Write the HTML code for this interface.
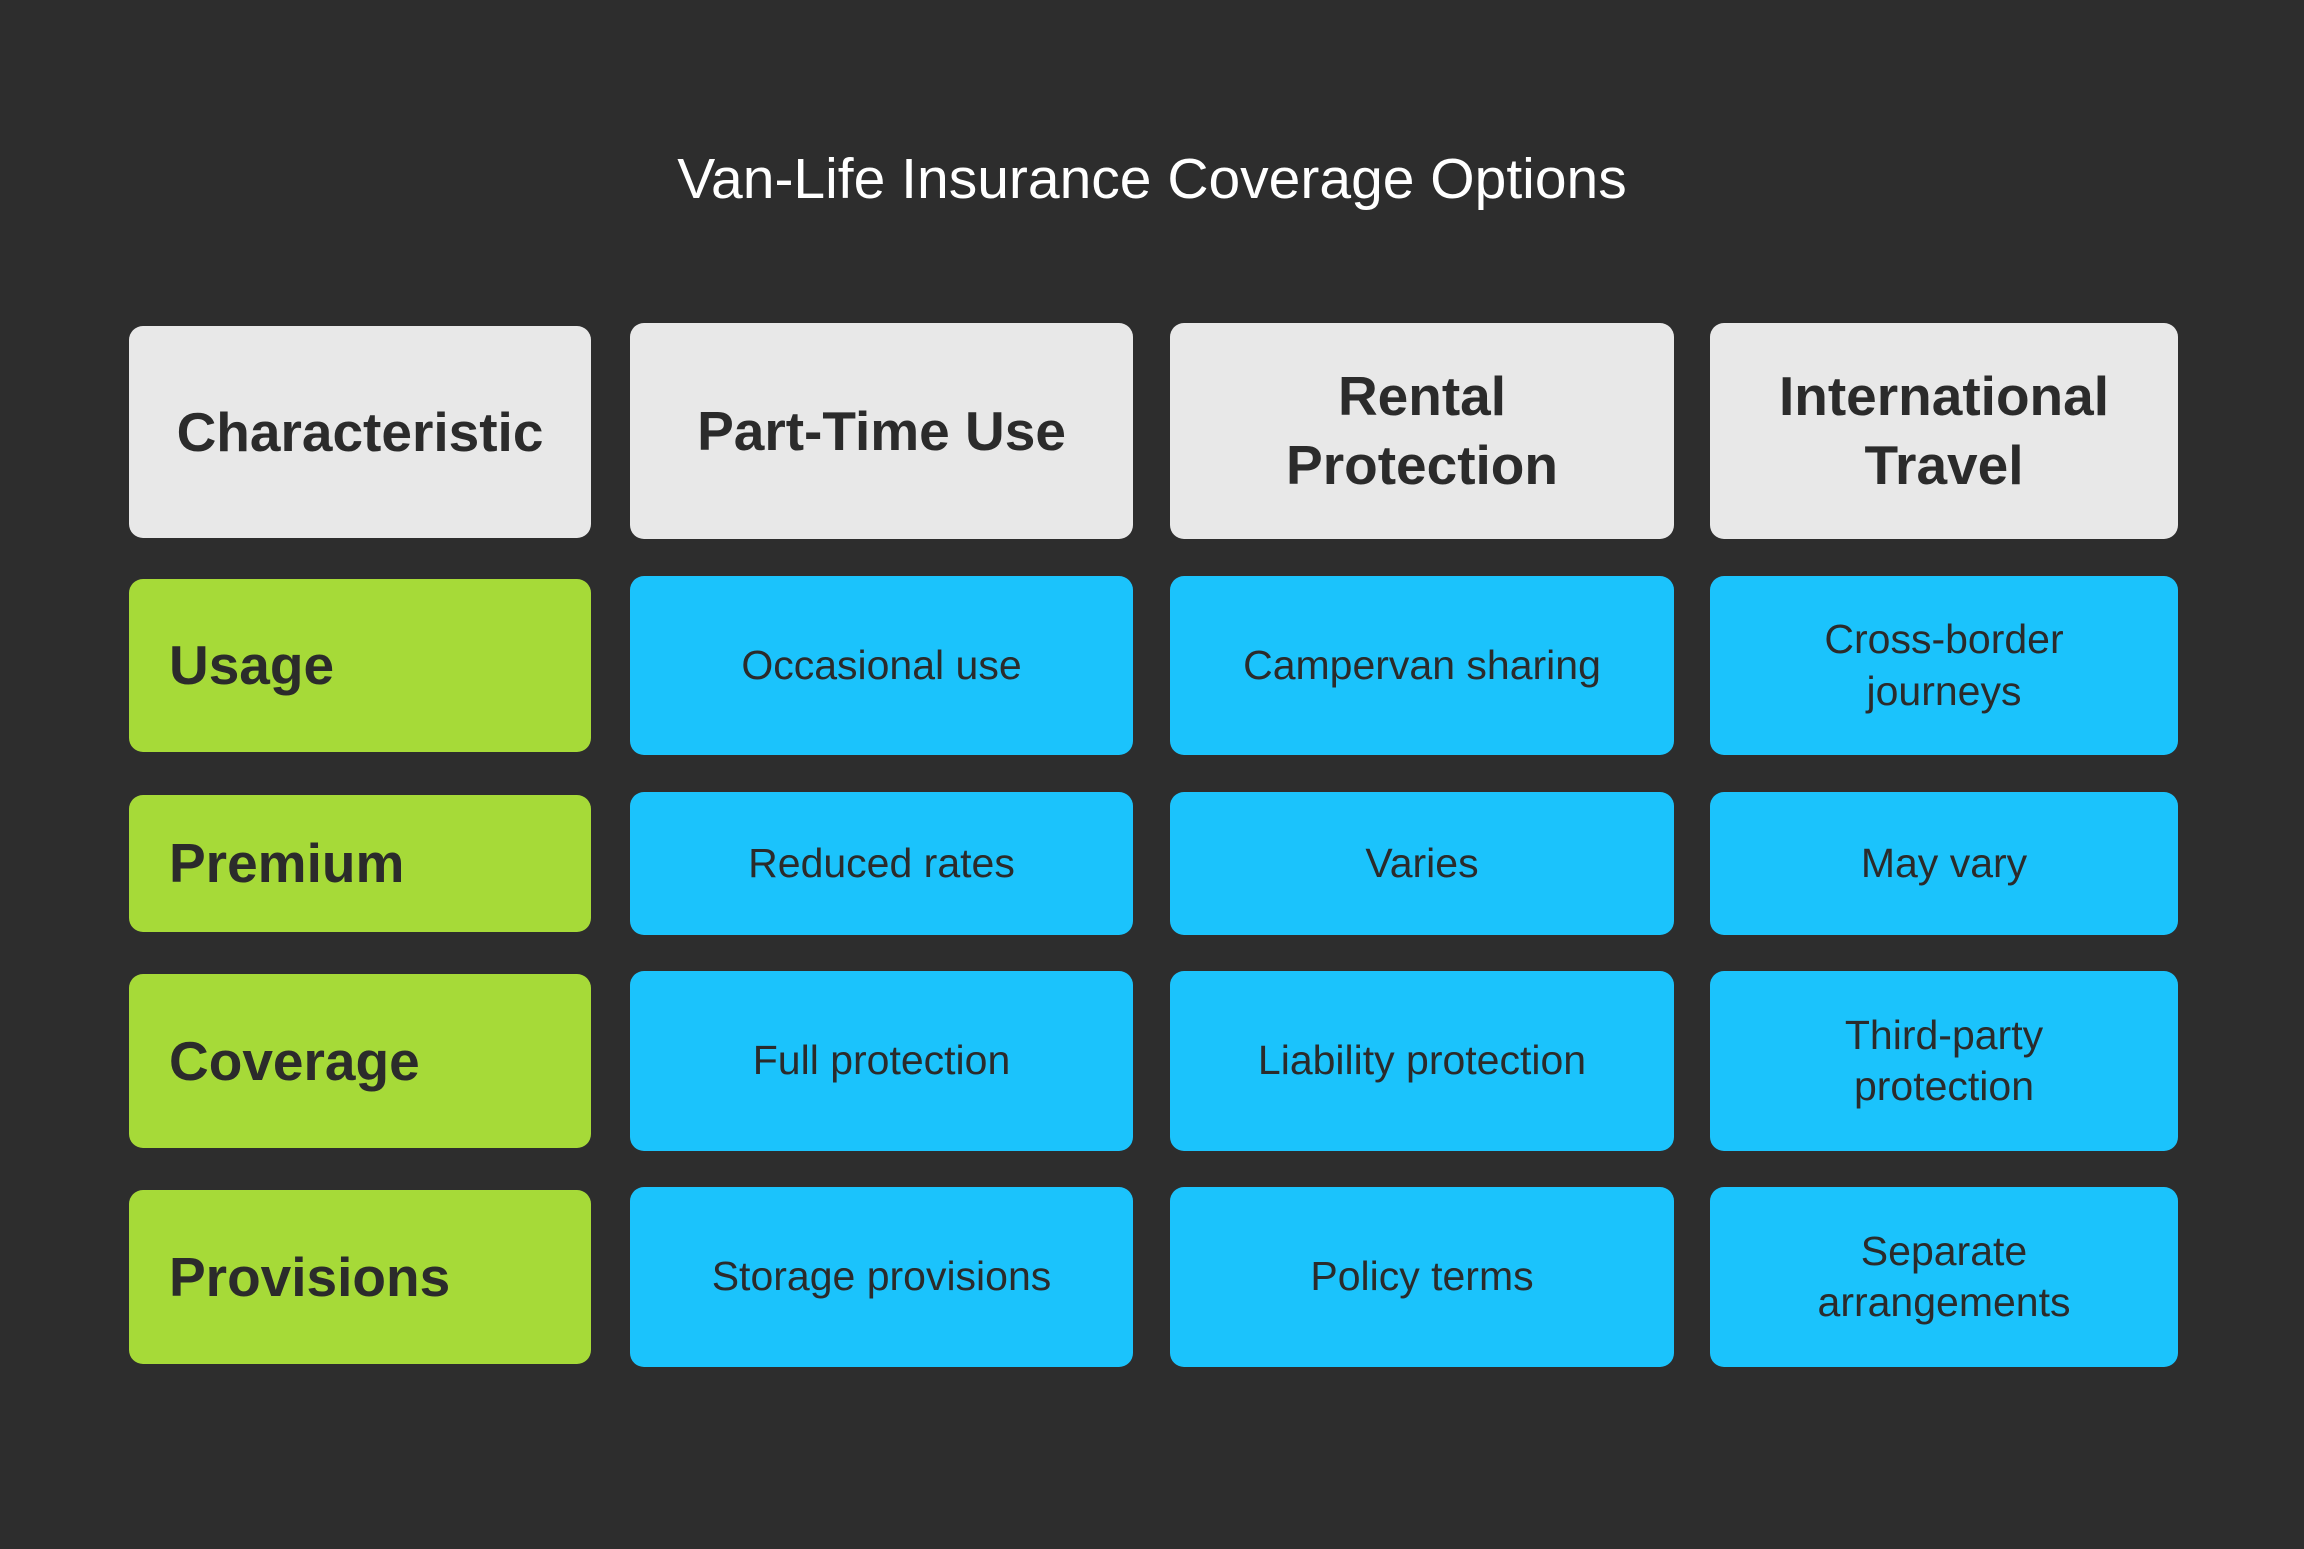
<!DOCTYPE html>
<html><head><meta charset="utf-8"><style>
html,body{margin:0;padding:0}
body{width:2304px;height:1549px;background:#2d2d2d;position:relative;overflow:hidden;font-family:"Liberation Sans",sans-serif}
.t{position:absolute;left:0;width:2304px;top:146px;text-align:center;color:#fff;font-size:57px}
.c{position:absolute;border-radius:14px;display:flex;align-items:center;justify-content:center;text-align:center;color:#2b2b2b;box-sizing:border-box;line-height:1.25}
.h{background:#e8e8e8;font-weight:bold;font-size:55px}
.g{background:#a6da38;font-weight:bold;font-size:55px;justify-content:flex-start;padding-left:40px}
.b{background:#1bc3fc;font-size:41px}
</style></head><body>
<div class="t">Van-Life Insurance Coverage Options</div>

<div class="c h" style="left:129px;top:326px;width:462px;height:212px">Characteristic</div>
<div class="c h" style="left:630px;top:323px;width:503px;height:216px">Part-Time Use</div>
<div class="c h" style="left:1170px;top:323px;width:504px;height:216px">Rental<br>Protection</div>
<div class="c h" style="left:1710px;top:323px;width:468px;height:216px">International<br>Travel</div>

<div class="c g" style="left:129px;top:579px;width:462px;height:173px">Usage</div>
<div class="c b" style="left:630px;top:576px;width:503px;height:179px">Occasional use</div>
<div class="c b" style="left:1170px;top:576px;width:504px;height:179px">Campervan sharing</div>
<div class="c b" style="left:1710px;top:576px;width:468px;height:179px">Cross-border<br>journeys</div>

<div class="c g" style="left:129px;top:795px;width:462px;height:137px">Premium</div>
<div class="c b" style="left:630px;top:792px;width:503px;height:143px">Reduced rates</div>
<div class="c b" style="left:1170px;top:792px;width:504px;height:143px">Varies</div>
<div class="c b" style="left:1710px;top:792px;width:468px;height:143px">May vary</div>

<div class="c g" style="left:129px;top:974px;width:462px;height:174px">Coverage</div>
<div class="c b" style="left:630px;top:971px;width:503px;height:180px">Full protection</div>
<div class="c b" style="left:1170px;top:971px;width:504px;height:180px">Liability protection</div>
<div class="c b" style="left:1710px;top:971px;width:468px;height:180px">Third-party<br>protection</div>

<div class="c g" style="left:129px;top:1190px;width:462px;height:174px">Provisions</div>
<div class="c b" style="left:630px;top:1187px;width:503px;height:180px">Storage provisions</div>
<div class="c b" style="left:1170px;top:1187px;width:504px;height:180px">Policy terms</div>
<div class="c b" style="left:1710px;top:1187px;width:468px;height:180px">Separate<br>arrangements</div>
</body></html>
